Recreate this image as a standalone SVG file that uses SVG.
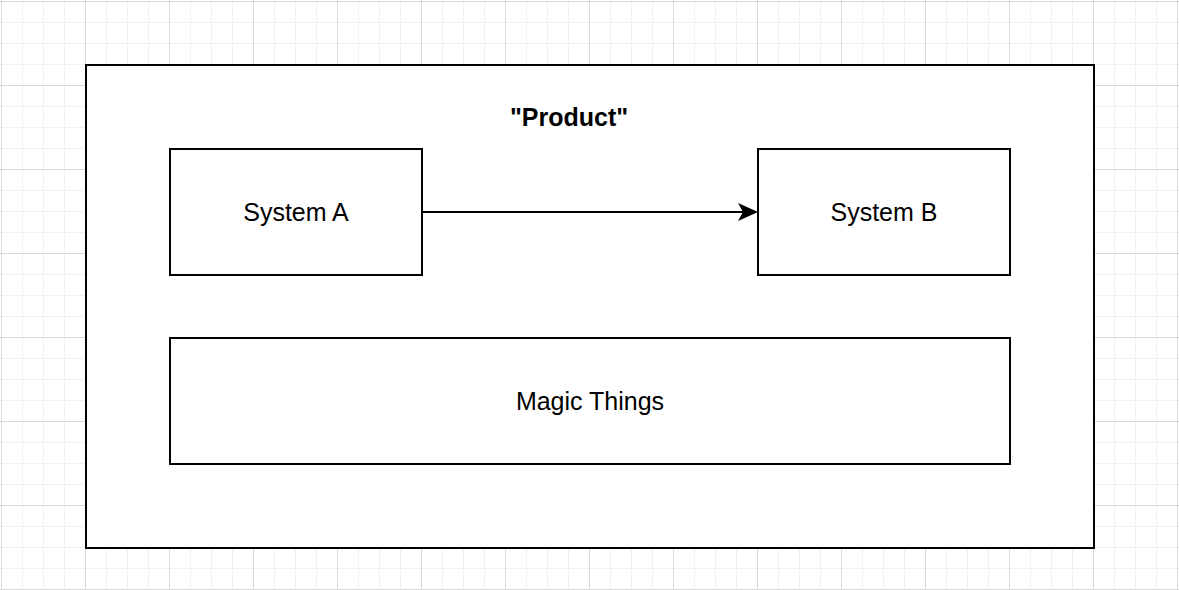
<svg xmlns="http://www.w3.org/2000/svg" width="1179" height="590" viewBox="0 0 1179 590">
<defs>
<pattern id="minor" width="21" height="21" patternUnits="userSpaceOnUse" x="1" y="1">
<path d="M0 0.5H21M0.5 0V21" fill="none" stroke="#f0f0f0" stroke-width="1"/>
</pattern>
<pattern id="major" width="84" height="84" patternUnits="userSpaceOnUse" x="1" y="1">
<path d="M0 0.5H84M0.5 0V84" fill="none" stroke="#d9d9d9" stroke-width="1"/>
</pattern>
<style>
.box{fill:#fff;stroke:#000;stroke-width:2}
.lbl{font-family:"Liberation Sans",Arial,sans-serif;font-size:25px;fill:#000;text-anchor:middle;dominant-baseline:central}
</style>
</defs>
<rect width="1179" height="590" fill="#fff"/>
<rect width="1179" height="590" fill="url(#minor)"/>
<rect width="1179" height="590" fill="url(#major)"/>
<g id="product">
<rect class="box" x="86" y="65" width="1008" height="483"/>
<text class="lbl" x="569" y="117" font-weight="bold" style="font-weight:bold">"Product"</text>
</g>
<g id="systemA">
<rect class="box" x="170" y="149" width="252" height="126"/>
<text class="lbl" x="296" y="212">System A</text>
</g>
<g id="systemB">
<rect class="box" x="758" y="149" width="252" height="126"/>
<text class="lbl" x="884" y="212">System B</text>
</g>
<g id="magic">
<rect class="box" x="170" y="338" width="840" height="126"/>
<text class="lbl" x="590" y="401">Magic Things</text>
</g>
<g id="connectors">
<path d="M422 212 H746" fill="none" stroke="#000" stroke-width="2"/>
<path d="M738 203 L758 212 L738 221 L743 212 Z" fill="#000"/>
</g>
</svg>
